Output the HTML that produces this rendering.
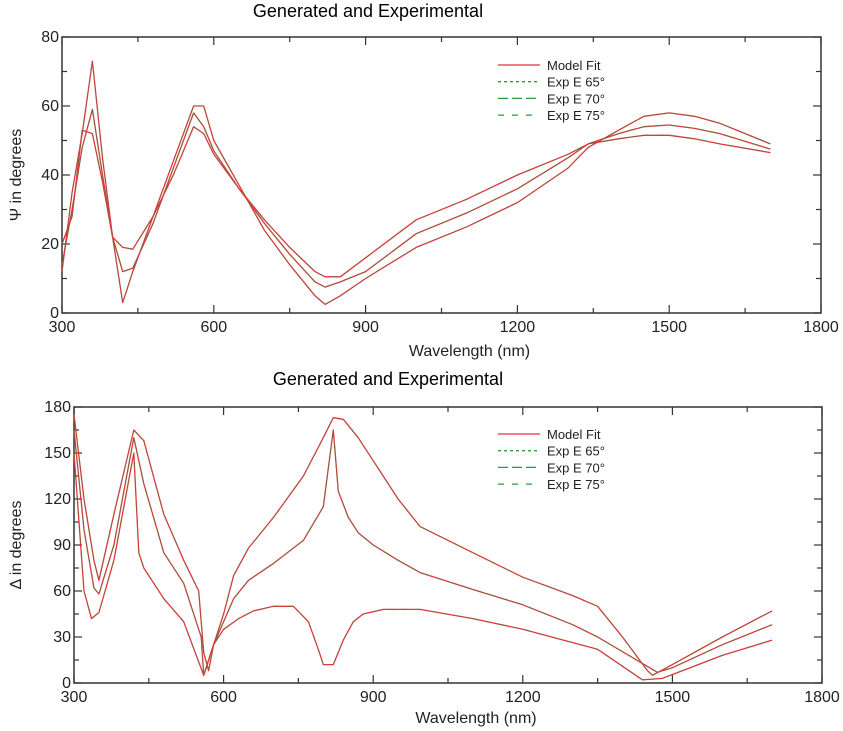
<!DOCTYPE html>
<html><head><meta charset="utf-8"><style>
html,body{margin:0;padding:0;background:#fff;}
svg{display:block;font-family:"Liberation Sans",sans-serif;}
</style></head><body>
<svg id="svg" width="843" height="731" viewBox="0 0 843 731" xmlns="http://www.w3.org/2000/svg"></svg>
<script>
// ---- Psi chart data ----
const psiWl = [300,320,340,360,380,400,420,440,480,520,560,580,600,650,700,750,800,820,850,900,1000,1100,1200,1300,1340,1400,1450,1500,1550,1600,1700];
const psi65 = [12,35,52,73,45,22,3,12,28,44,60,60,50,37,24,14,5,2.5,5,10,19,25,32,42,48,53,57,58,57,55,49];
const psi70 = [14,30,48,59,40,22,12,13,26,42,58,54,47,36,26,17,9,7.5,9,12,23,29,36,45,49,52,54,54.5,53.5,52,47.5];
const psi75 = [20,28,53,52,38,22,19,18.5,28,40,54,52,46,36,27,19,12,10.5,10.5,16,27,33,40,46,49,50.5,51.5,51.5,50.5,49,46.5];
const psiTicks = [0,20,40,60,80];
// ---- Delta chart data ----
const delWl1 = [300,320,340,350,380,420,440,480,520,550,560,570,580,600,620,650,700,760,800,820,840,870,900,950,994,1100,1200,1300,1350,1400,1450,1460,1500,1600,1700];
const del1 = [175,120,80,67,110,165,158,110,80,60,20,8,25,45,70,88,108,135,160,173,172,160,145,120,102,85,69,57,50,30,8,5,12,30,47];
const delWl2 = [300,320,340,350,380,420,440,480,520,555,560,580,600,620,650,700,760,800,820,830,850,870,900,950,994,1100,1200,1300,1350,1470,1500,1600,1700];
const del2 = [165,100,62,58,90,160,130,85,65,30,5,25,40,55,67,78,93,115,165,125,108,98,90,80,72,61,51,38,30,7,10,25,38];
const delWl3 = [300,320,335,350,380,420,430,440,480,520,560,580,600,630,660,700,740,770,790,800,820,840,860,880,920,950,994,1100,1200,1350,1440,1480,1600,1700];
const del3 = [150,60,42,46,80,150,85,75,55,40,5,25,35,42,47,50,50,40,22,12,12,28,40,45,48,48,48,42,35,22,2,3,18,28];
const delTicks = [0,30,60,90,120,150,180];
const xTicks = [300,600,900,1200,1500,1800];
const legendLabels = ["Model Fit","Exp E 65°","Exp E 70°","Exp E 75°"];

const svg = document.getElementById('svg');
const NS = 'http://www.w3.org/2000/svg';
function mk(tag, attrs, parent){const e=document.createElementNS(NS,tag);for(const k in attrs)e.setAttribute(k,attrs[k]);(parent||svg).appendChild(e);return e;}

function chart(cfg){
  const g = mk('g',{});
  
  
  const {L,R,T,B,ymax,ystep} = cfg;
  const xs = v => L + (v-300)/1500*(R-L);
  const ys = v => B - v/ymax*(B-T);
  const t = mk('text',{x:cfg.titleX,y:cfg.titleY,'font-size':18,'text-anchor':'middle',fill:'#000'},g);
  t.textContent='Generated and Experimental';
  
  
  const fr = mk('rect',{x:L,y:T,width:R-L,height:B-T,fill:'none',stroke:'#333','stroke-width':1.5},g);
  
  
  for(let v=300; v<=1800; v+=150){
    const x=xs(v), len=(v%300===0)?8:5;
    mk('line',{x1:x,y1:B,x2:x,y2:B-len,stroke:'#333','stroke-width':1.2},g);
    mk('line',{x1:x,y1:T,x2:x,y2:T+len,stroke:'#333','stroke-width':1.2},g);
  }
  xTicks.forEach(v=>{
    const tx=mk('text',{x:xs(v),y:B+19,'font-size':16,'text-anchor':'middle',fill:'#222'},g);
    tx.textContent=v;
    
    
  });
  for(let v=0; v<=ymax; v+=ystep/2){
    const y=ys(v), len=(v%ystep===0)?8:5;
    mk('line',{x1:L,y1:y,x2:L+len,y2:y,stroke:'#333','stroke-width':1.2},g);
    mk('line',{x1:R,y1:y,x2:R-len,y2:y,stroke:'#333','stroke-width':1.2},g);
  }
  cfg.yTicks.forEach(v=>{
    const ty=mk('text',{x:L-3,y:ys(v)+5,'font-size':16,'text-anchor':'end',fill:'#222'},g);
    ty.textContent=v;
    
    
  });
  const xl=mk('text',{x:(L+R)/2+28,y:cfg.xLabelY,'font-size':16,'text-anchor':'middle',fill:'#222'},g);
  xl.textContent='Wavelength (nm)';
  
  
  const yl=mk('text',{x:0,y:0,'font-size':16,'text-anchor':'middle',fill:'#222',transform:`translate(${cfg.yLabelX},${(T+B)/2}) rotate(-90)`},g);
  yl.textContent=cfg.yLabel;
  
  
  const dashes=['3,3','10,4','6,8'];
  cfg.series.forEach((s,i)=>{
    const d=s.wl.map((w,j)=>(j?'L':'M')+xs(w).toFixed(1)+','+ys(s.v[j]).toFixed(1)).join(' ');
    const pr=mk('path',{d:d,fill:'none',stroke:'#e8323c','stroke-width':1.3,'stroke-linejoin':'round'},g);
    
    
    const ge=mk('path',{d:d,fill:'none',stroke:'#3a8a3a','stroke-width':1,'stroke-dasharray':dashes[i],opacity:0.6},g);
    
    
  });
  const lg=mk('g',{},g);
  
  
  const styles=[{c:'#e8323c',d:''},{c:'#2a9d3a',d:'3,3'},{c:'#2a9d3a',d:'10,4'},{c:'#2a9d3a',d:'6,8'}];
  legendLabels.forEach((lab,i)=>{
    const y=cfg.legY+i*16.7;
    const ln=mk('line',{x1:498,y1:y,x2:540,y2:y,stroke:styles[i].c,'stroke-width':1.3},lg);
    if(styles[i].d) ln.setAttribute('stroke-dasharray',styles[i].d);
    const lt=mk('text',{x:547,y:y+5,'font-size':13,fill:'#222'},lg);
    lt.textContent=lab;
    
    
  });
}
chart({name:'psi-chart',L:62,R:821,T:37,B:313,ymax:80,ystep:20,yTicks:psiTicks,titleX:368,titleY:17,xLabelY:356,yLabel:'Ψ in degrees',yLabelX:21,legY:65,
  series:[{wl:psiWl,v:psi65},{wl:psiWl,v:psi70},{wl:psiWl,v:psi75}]});
chart({name:'delta-chart',L:74,R:822,T:407,B:683,ymax:180,ystep:30,yTicks:delTicks,titleX:388,titleY:385,xLabelY:723,yLabel:'Δ in degrees',yLabelX:21,legY:434,
  series:[{wl:delWl1,v:del1},{wl:delWl2,v:del2},{wl:delWl3,v:del3}]});
</script>
</body></html>
